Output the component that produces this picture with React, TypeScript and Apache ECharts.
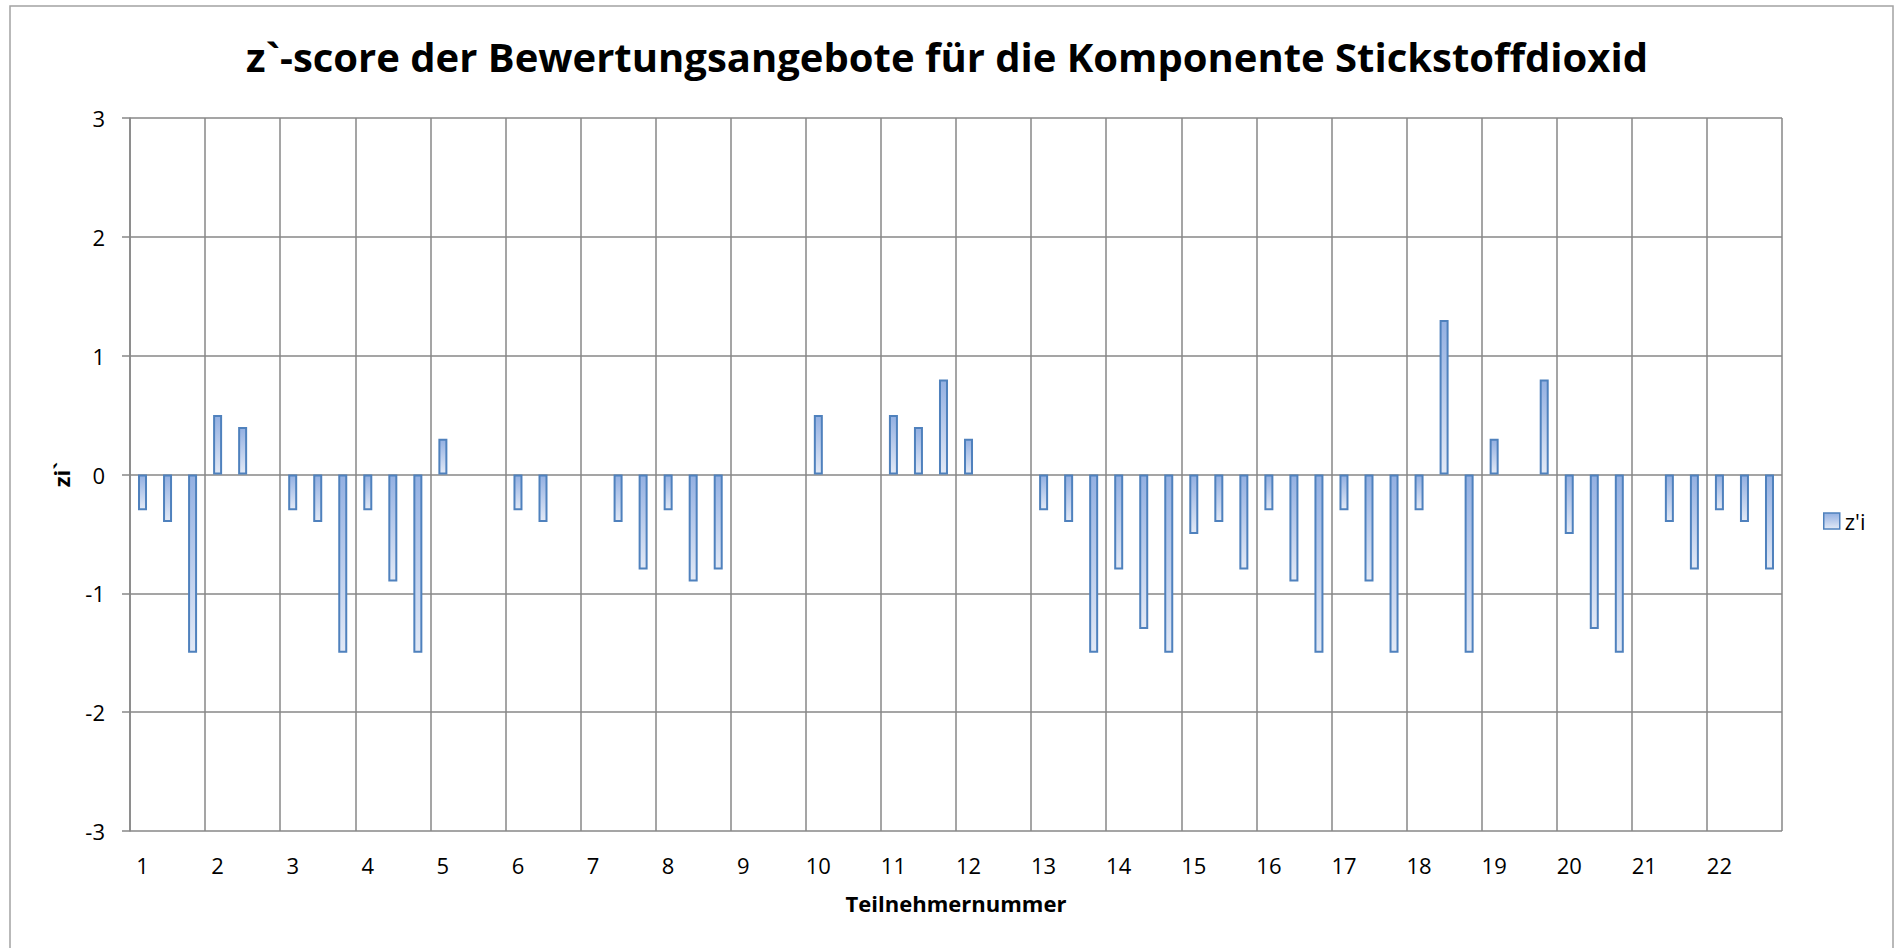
import React, { useEffect, useRef } from "react";
import * as echarts from "echarts";

const participants: string[] = [
  "1", "2", "3", "4", "5", "6", "7", "8", "9", "10", "11",
  "12", "13", "14", "15", "16", "17", "18", "19", "20", "21", "22",
];
const slots: string[] = ["a", "b", "c"];

// z'i values, three per participant (null = no value)
const values1: (number | null)[] = [-0.3, 0.5, -0.3, -0.3, 0.3, -0.3, null, -0.3, null, 0.5, 0.5, 0.3, -0.3, -0.8, -0.5, -0.3, -0.3, -0.3, 0.3, -0.5, null, -0.3];
const values2: (number | null)[] = [-0.4, 0.4, -0.4, -0.9, null, -0.4, -0.4, -0.9, null, null, 0.4, null, -0.4, -1.3, -0.4, -0.9, -0.9, 1.3, null, -1.3, -0.4, -0.4];
const values3: (number | null)[] = [-1.5, null, -1.5, -1.5, null, null, -0.8, -0.8, null, null, 0.8, null, -1.5, -1.5, -0.8, -1.5, -1.5, -1.5, 0.8, -1.5, -0.8, -0.8];

const yTicks: number[] = [-3, -2, -1, 0, 1, 2, 3];

const titleText = "z`-score der Bewertungsangebote für die Komponente Stickstoffdioxid";
const seriesName = "z'i";
const xName = "Teilnehmernummer";
const yName = "zi`";

export default function App() {
  const ref = useRef<HTMLDivElement>(null);

  useEffect(() => {
    if (!ref.current) return;
    const chart = echarts.init(ref.current, undefined, { renderer: "svg" });

    const categories: string[] = [];
    const data: (number | null)[] = [];
    const cols = [values1, values2, values3];
    participants.forEach((p, i) => {
      slots.forEach((s, j) => {
        categories.push(p + "-" + s);
        data.push(cols[j][i]);
      });
    });

    const font = "'Open Sans', 'Noto Sans', sans-serif";
    const gridColor = "#878787";
    const makeFill = () =>
      new echarts.graphic.LinearGradient(0, 0, 0, 1, [
        { offset: 0, color: "#93b0e2" },
        { offset: 1, color: "#e2e9f6" },
      ]);

    chart.setOption({
      animation: false,
      backgroundColor: "#ffffff",
      textStyle: { fontFamily: font },
      title: {
        text: titleText,
        left: "center",
        top: 33,
        padding: [0, 0, 0, 12],
        textStyle: {
          fontFamily: font,
          fontWeight: "bold",
          fontSize: 40,
          lineHeight: 46,
          color: "#000000",
        },
      },
      graphic: [
        {
          type: "rect",
          silent: true,
          z: -10,
          shape: { x: 10, y: 6, width: 1883, height: 1000 },
          style: { fill: "none", stroke: "#a3a3a3", lineWidth: 1.5 },
        },
      ],
      legend: {
        left: 1823,
        top: 510,
        padding: 0,
        itemWidth: 16,
        itemHeight: 16,
        textStyle: { fontFamily: font, fontSize: 22, color: "#000000" },
        data: [
          {
            name: seriesName,
            icon: "rect",
            itemStyle: {
              color: makeFill(),
              borderColor: "#4f81bd",
              borderWidth: 1.5,
            },
          },
        ],
      },
      grid: { left: 130, right: 112, top: 118, bottom: 117, containLabel: false },
      xAxis: {
        type: "category",
        data: categories,
        boundaryGap: true,
        name: xName,
        nameLocation: "middle",
        nameGap: 61,
        nameTextStyle: { fontFamily: font, fontWeight: "bold", fontSize: 22, color: "#000000" },
        axisLine: { show: false, onZero: false },
        axisTick: { show: false },
        axisLabel: {
          interval: 2,
          margin: 23,
          fontFamily: font,
          fontSize: 22,
          color: "#000000",
          formatter: (v: string) => v.split("-")[0],
        },
        splitLine: { show: true, interval: 2, lineStyle: { color: gridColor, width: 1.5 } },
      },
      yAxis: {
        type: "value",
        min: yTicks[0],
        max: yTicks[yTicks.length - 1],
        interval: 1,
        name: yName,
        nameLocation: "middle",
        nameRotate: 90,
        nameGap: 58,
        nameTextStyle: { fontFamily: font, fontWeight: "bold", fontSize: 22, color: "#000000" },
        axisLine: { show: true, lineStyle: { color: gridColor, width: 1.5 } },
        axisTick: { show: true, length: 8, inside: false, lineStyle: { color: gridColor, width: 1.5 } },
        axisLabel: { margin: 25, fontFamily: font, fontSize: 22, color: "#000000" },
        splitLine: { show: true, lineStyle: { color: gridColor, width: 1.5 } },
      },
      series: [
        {
          name: seriesName,
          type: "bar",
          data: data,
          barWidth: 9,
          itemStyle: { color: makeFill(), borderColor: "#4f81bd", borderWidth: 2 },
        },
      ],
    });

    return () => chart.dispose();
  }, []);

  return (
    <div
      ref={ref}
      style={{ position: "absolute", left: 0, top: 0, width: 1894, height: 948 }}
    />
  );
}
